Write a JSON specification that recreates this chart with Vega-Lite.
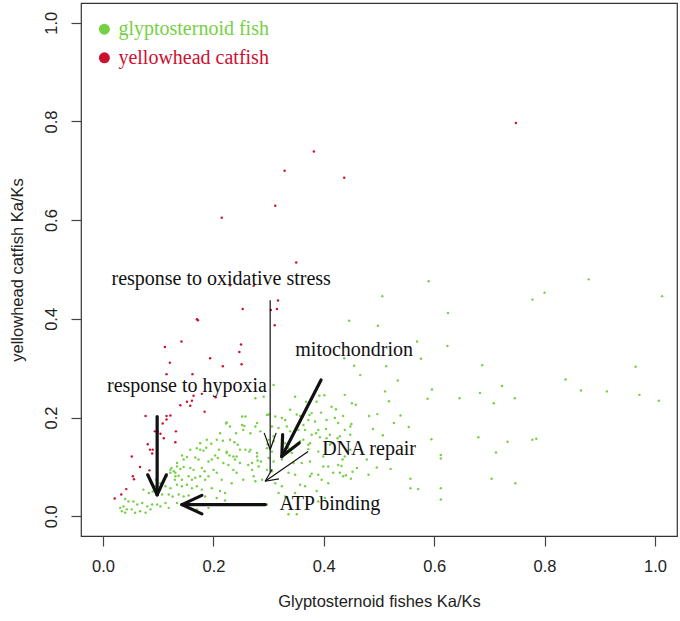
{
  "$schema": "https://vega.github.io/schema/vega-lite/v6.json",
  "autosize": {"type": "none"},
  "width": 596,
  "height": 533,
  "padding": {"left": 81, "top": 3, "right": 3, "bottom": 85},
  "background": "white",
  "config": {"view": {"stroke": "#333", "strokeWidth": 1.2}},
  "datasets": {
    "pts": [
      {"x":0.590,"y":0.476,"g":"G"},{"x":0.506,"y":0.446,"g":"G"},{"x":0.880,"y":0.480,"g":"G"},{"x":0.800,"y":0.453,"g":"G"},{"x":0.778,"y":0.439,"g":"G"},{"x":1.013,"y":0.446,"g":"G"},{"x":0.625,"y":0.412,"g":"G"},{"x":0.446,"y":0.396,"g":"G"},{"x":0.498,"y":0.386,"g":"G"},{"x":0.624,"y":0.345,"g":"G"},{"x":0.569,"y":0.354,"g":"G"},{"x":0.576,"y":0.319,"g":"G"},{"x":0.437,"y":0.320,"g":"G"},{"x":0.455,"y":0.305,"g":"G"},{"x":0.513,"y":0.304,"g":"G"},{"x":0.466,"y":0.286,"g":"G"},{"x":0.687,"y":0.306,"g":"G"},{"x":0.965,"y":0.303,"g":"G"},{"x":0.534,"y":0.275,"g":"G"},{"x":0.838,"y":0.277,"g":"G"},{"x":0.723,"y":0.264,"g":"G"},{"x":0.596,"y":0.257,"g":"G"},{"x":0.511,"y":0.253,"g":"G"},{"x":0.438,"y":0.246,"g":"G"},{"x":0.683,"y":0.250,"g":"G"},{"x":0.866,"y":0.255,"g":"G"},{"x":0.913,"y":0.253,"g":"G"},{"x":0.972,"y":0.246,"g":"G"},{"x":0.588,"y":0.238,"g":"G"},{"x":0.646,"y":0.239,"g":"G"},{"x":0.746,"y":0.239,"g":"G"},{"x":1.007,"y":0.234,"g":"G"},{"x":0.518,"y":0.233,"g":"G"},{"x":0.708,"y":0.229,"g":"G"},{"x":0.451,"y":0.229,"g":"G"},{"x":0.458,"y":0.226,"g":"G"},{"x":0.435,"y":0.203,"g":"G"},{"x":0.482,"y":0.203,"g":"G"},{"x":0.497,"y":0.207,"g":"G"},{"x":0.539,"y":0.204,"g":"G"},{"x":0.450,"y":0.187,"g":"G"},{"x":0.527,"y":0.189,"g":"G"},{"x":0.554,"y":0.181,"g":"G"},{"x":0.438,"y":0.175,"g":"G"},{"x":0.489,"y":0.177,"g":"G"},{"x":0.507,"y":0.164,"g":"G"},{"x":0.595,"y":0.156,"g":"G"},{"x":0.680,"y":0.160,"g":"G"},{"x":0.733,"y":0.151,"g":"G"},{"x":0.778,"y":0.155,"g":"G"},{"x":0.785,"y":0.157,"g":"G"},{"x":0.712,"y":0.129,"g":"G"},{"x":0.612,"y":0.124,"g":"G"},{"x":0.612,"y":0.117,"g":"G"},{"x":0.434,"y":0.115,"g":"G"},{"x":0.478,"y":0.115,"g":"G"},{"x":0.496,"y":0.099,"g":"G"},{"x":0.521,"y":0.096,"g":"G"},{"x":0.481,"y":0.084,"g":"G"},{"x":0.440,"y":0.083,"g":"G"},{"x":0.449,"y":0.076,"g":"G"},{"x":0.557,"y":0.076,"g":"G"},{"x":0.557,"y":0.057,"g":"G"},{"x":0.571,"y":0.055,"g":"G"},{"x":0.612,"y":0.057,"g":"G"},{"x":0.612,"y":0.034,"g":"G"},{"x":0.704,"y":0.076,"g":"G"},{"x":0.747,"y":0.067,"g":"G"},{"x":0.432,"y":0.102,"g":"G"},
      {"x":0.348,"y":0.242,"g":"G"},{"x":0.392,"y":0.244,"g":"G"},{"x":0.401,"y":0.245,"g":"G"},{"x":0.422,"y":0.217,"g":"G"},{"x":0.374,"y":0.205,"g":"G"},{"x":0.395,"y":0.210,"g":"G"},{"x":0.357,"y":0.203,"g":"G"},{"x":0.390,"y":0.175,"g":"G"},{"x":0.404,"y":0.177,"g":"G"},{"x":0.411,"y":0.165,"g":"G"},{"x":0.425,"y":0.158,"g":"G"},{"x":0.448,"y":0.165,"g":"G"},{"x":0.363,"y":0.185,"g":"G"},{"x":0.375,"y":0.148,"g":"G"},{"x":0.357,"y":0.152,"g":"G"},{"x":0.411,"y":0.145,"g":"G"},{"x":0.276,"y":0.182,"g":"G"},{"x":0.285,"y":0.172,"g":"G"},{"x":0.267,"y":0.135,"g":"G"},{"x":0.279,"y":0.121,"g":"G"},{"x":0.282,"y":0.101,"g":"G"},{"x":0.273,"y":0.081,"g":"G"},{"x":0.288,"y":0.074,"g":"G"},{"x":0.375,"y":0.081,"g":"G"},{"x":0.396,"y":0.074,"g":"G"},{"x":0.408,"y":0.067,"g":"G"},{"x":0.387,"y":0.051,"g":"G"},{"x":0.402,"y":0.037,"g":"G"},{"x":0.390,"y":0.030,"g":"G"},{"x":0.429,"y":0.088,"g":"G"},{"x":0.460,"y":0.098,"g":"G"},{"x":0.291,"y":0.242,"g":"G"},{"x":0.297,"y":0.205,"g":"G"},{"x":0.414,"y":0.222,"g":"G"},{"x":0.426,"y":0.189,"g":"G"},{"x":0.448,"y":0.182,"g":"G"},
      {"x":0.309,"y":0.266,"g":"G"},{"x":0.368,"y":0.232,"g":"G"},{"x":0.387,"y":0.232,"g":"G"},{"x":0.339,"y":0.216,"g":"G"},{"x":0.351,"y":0.206,"g":"G"},{"x":0.378,"y":0.209,"g":"G"},{"x":0.300,"y":0.206,"g":"G"},{"x":0.312,"y":0.202,"g":"G"},{"x":0.324,"y":0.199,"g":"G"},{"x":0.330,"y":0.195,"g":"G"},{"x":0.372,"y":0.195,"g":"G"},{"x":0.384,"y":0.192,"g":"G"},{"x":0.405,"y":0.195,"g":"G"},{"x":0.420,"y":0.199,"g":"G"},{"x":0.306,"y":0.182,"g":"G"},{"x":0.318,"y":0.179,"g":"G"},{"x":0.333,"y":0.182,"g":"G"},{"x":0.339,"y":0.172,"g":"G"},{"x":0.354,"y":0.175,"g":"G"},{"x":0.366,"y":0.175,"g":"G"},{"x":0.378,"y":0.165,"g":"G"},{"x":0.386,"y":0.168,"g":"G"},{"x":0.393,"y":0.160,"g":"G"},{"x":0.300,"y":0.155,"g":"G"},{"x":0.309,"y":0.152,"g":"G"},{"x":0.324,"y":0.155,"g":"G"},{"x":0.330,"y":0.148,"g":"G"},{"x":0.363,"y":0.155,"g":"G"},{"x":0.372,"y":0.145,"g":"G"},{"x":0.405,"y":0.158,"g":"G"},{"x":0.414,"y":0.148,"g":"G"},{"x":0.429,"y":0.162,"g":"G"},{"x":0.297,"y":0.138,"g":"G"},{"x":0.306,"y":0.131,"g":"G"},{"x":0.336,"y":0.138,"g":"G"},{"x":0.342,"y":0.128,"g":"G"},{"x":0.372,"y":0.136,"g":"G"},{"x":0.390,"y":0.131,"g":"G"},{"x":0.399,"y":0.121,"g":"G"},{"x":0.438,"y":0.121,"g":"G"},{"x":0.448,"y":0.135,"g":"G"},{"x":0.300,"y":0.118,"g":"G"},{"x":0.309,"y":0.111,"g":"G"},{"x":0.324,"y":0.115,"g":"G"},{"x":0.345,"y":0.108,"g":"G"},{"x":0.360,"y":0.108,"g":"G"},{"x":0.375,"y":0.111,"g":"G"},{"x":0.399,"y":0.101,"g":"G"},{"x":0.408,"y":0.101,"g":"G"},{"x":0.426,"y":0.104,"g":"G"},{"x":0.297,"y":0.094,"g":"G"},{"x":0.306,"y":0.091,"g":"G"},{"x":0.336,"y":0.088,"g":"G"},{"x":0.348,"y":0.084,"g":"G"},{"x":0.378,"y":0.086,"g":"G"},{"x":0.390,"y":0.084,"g":"G"},{"x":0.417,"y":0.088,"g":"G"},{"x":0.435,"y":0.081,"g":"G"},{"x":0.452,"y":0.090,"g":"G"},{"x":0.312,"y":0.067,"g":"G"},{"x":0.324,"y":0.061,"g":"G"},{"x":0.357,"y":0.064,"g":"G"},{"x":0.366,"y":0.061,"g":"G"},{"x":0.318,"y":0.047,"g":"G"},{"x":0.330,"y":0.040,"g":"G"},{"x":0.348,"y":0.047,"g":"G"},{"x":0.354,"y":0.037,"g":"G"},{"x":0.297,"y":0.024,"g":"G"},{"x":0.336,"y":0.004,"g":"G"},{"x":0.351,"y":0.004,"g":"G"},
      {"x":0.258,"y":0.202,"g":"G"},{"x":0.252,"y":0.185,"g":"G"},{"x":0.224,"y":0.190,"g":"G"},{"x":0.230,"y":0.182,"g":"G"},{"x":0.279,"y":0.189,"g":"G"},{"x":0.298,"y":0.146,"g":"G"},{"x":0.309,"y":0.162,"g":"G"},{"x":0.212,"y":0.168,"g":"G"},{"x":0.206,"y":0.155,"g":"G"},{"x":0.188,"y":0.155,"g":"G"},{"x":0.176,"y":0.148,"g":"G"},{"x":0.158,"y":0.135,"g":"G"},{"x":0.170,"y":0.138,"g":"G"},{"x":0.134,"y":0.108,"g":"G"},{"x":0.146,"y":0.115,"g":"G"},{"x":0.122,"y":0.094,"g":"G"},{"x":0.131,"y":0.088,"g":"G"},{"x":0.224,"y":0.128,"g":"G"},{"x":0.236,"y":0.121,"g":"G"},{"x":0.248,"y":0.135,"g":"G"},{"x":0.270,"y":0.108,"g":"G"},{"x":0.279,"y":0.128,"g":"G"},{"x":0.037,"y":0.020,"g":"G"},{"x":0.043,"y":0.014,"g":"G"},
      {"x":0.276,"y":0.239,"g":"G"},{"x":0.223,"y":0.188,"g":"G"},{"x":0.252,"y":0.202,"g":"G"},{"x":0.256,"y":0.183,"g":"G"},{"x":0.254,"y":0.175,"g":"G"},{"x":0.241,"y":0.168,"g":"G"},{"x":0.267,"y":0.168,"g":"G"},{"x":0.217,"y":0.153,"g":"G"},{"x":0.230,"y":0.155,"g":"G"},{"x":0.196,"y":0.147,"g":"G"},{"x":0.238,"y":0.150,"g":"G"},{"x":0.244,"y":0.145,"g":"G"},{"x":0.210,"y":0.135,"g":"G"},{"x":0.176,"y":0.135,"g":"G"},{"x":0.182,"y":0.133,"g":"G"},{"x":0.187,"y":0.139,"g":"G"},{"x":0.224,"y":0.131,"g":"G"},{"x":0.229,"y":0.123,"g":"G"},{"x":0.258,"y":0.135,"g":"G"},{"x":0.265,"y":0.131,"g":"G"},{"x":0.203,"y":0.123,"g":"G"},{"x":0.208,"y":0.118,"g":"G"},{"x":0.242,"y":0.121,"g":"G"},{"x":0.239,"y":0.115,"g":"G"},{"x":0.143,"y":0.123,"g":"G"},{"x":0.152,"y":0.120,"g":"G"},{"x":0.167,"y":0.119,"g":"G"},{"x":0.173,"y":0.115,"g":"G"},{"x":0.191,"y":0.111,"g":"G"},{"x":0.197,"y":0.115,"g":"G"},{"x":0.218,"y":0.108,"g":"G"},{"x":0.227,"y":0.104,"g":"G"},{"x":0.248,"y":0.108,"g":"G"},{"x":0.263,"y":0.104,"g":"G"},{"x":0.280,"y":0.113,"g":"G"},{"x":0.286,"y":0.111,"g":"G"},{"x":0.134,"y":0.101,"g":"G"},{"x":0.140,"y":0.096,"g":"G"},{"x":0.146,"y":0.100,"g":"G"},{"x":0.158,"y":0.098,"g":"G"},{"x":0.164,"y":0.094,"g":"G"},{"x":0.179,"y":0.098,"g":"G"},{"x":0.184,"y":0.091,"g":"G"},{"x":0.200,"y":0.094,"g":"G"},{"x":0.206,"y":0.088,"g":"G"},{"x":0.236,"y":0.094,"g":"G"},{"x":0.242,"y":0.088,"g":"G"},{"x":0.270,"y":0.094,"g":"G"},{"x":0.131,"y":0.081,"g":"G"},{"x":0.137,"y":0.082,"g":"G"},{"x":0.143,"y":0.074,"g":"G"},{"x":0.155,"y":0.081,"g":"G"},{"x":0.161,"y":0.074,"g":"G"},{"x":0.167,"y":0.078,"g":"G"},{"x":0.176,"y":0.081,"g":"G"},{"x":0.185,"y":0.074,"g":"G"},{"x":0.191,"y":0.081,"g":"G"},{"x":0.215,"y":0.074,"g":"G"},{"x":0.233,"y":0.067,"g":"G"},{"x":0.254,"y":0.074,"g":"G"},{"x":0.276,"y":0.071,"g":"G"},{"x":0.134,"y":0.064,"g":"G"},{"x":0.143,"y":0.061,"g":"G"},{"x":0.152,"y":0.064,"g":"G"},{"x":0.161,"y":0.057,"g":"G"},{"x":0.170,"y":0.061,"g":"G"},{"x":0.179,"y":0.054,"g":"G"},{"x":0.197,"y":0.057,"g":"G"},{"x":0.212,"y":0.051,"g":"G"},{"x":0.221,"y":0.047,"g":"G"},{"x":0.137,"y":0.044,"g":"G"},{"x":0.146,"y":0.040,"g":"G"},{"x":0.155,"y":0.042,"g":"G"},{"x":0.167,"y":0.037,"g":"G"},{"x":0.185,"y":0.040,"g":"G"},{"x":0.206,"y":0.037,"g":"G"},{"x":0.221,"y":0.032,"g":"G"},{"x":0.134,"y":0.027,"g":"G"},{"x":0.143,"y":0.024,"g":"G"},{"x":0.170,"y":0.014,"g":"G"},{"x":0.191,"y":0.017,"g":"G"},
      {"x":0.115,"y":0.081,"g":"G"},{"x":0.122,"y":0.088,"g":"G"},{"x":0.128,"y":0.091,"g":"G"},{"x":0.096,"y":0.074,"g":"G"},{"x":0.104,"y":0.067,"g":"G"},{"x":0.113,"y":0.061,"g":"G"},{"x":0.086,"y":0.071,"g":"G"},{"x":0.073,"y":0.054,"g":"G"},{"x":0.083,"y":0.047,"g":"G"},{"x":0.090,"y":0.050,"g":"G"},{"x":0.098,"y":0.044,"g":"G"},{"x":0.107,"y":0.044,"g":"G"},{"x":0.119,"y":0.044,"g":"G"},{"x":0.126,"y":0.040,"g":"G"},{"x":0.040,"y":0.035,"g":"G"},{"x":0.046,"y":0.030,"g":"G"},{"x":0.055,"y":0.030,"g":"G"},{"x":0.062,"y":0.024,"g":"G"},{"x":0.071,"y":0.027,"g":"G"},{"x":0.080,"y":0.020,"g":"G"},{"x":0.089,"y":0.024,"g":"G"},{"x":0.098,"y":0.024,"g":"G"},{"x":0.104,"y":0.020,"g":"G"},{"x":0.113,"y":0.027,"g":"G"},{"x":0.119,"y":0.017,"g":"G"},{"x":0.031,"y":0.017,"g":"G"},{"x":0.034,"y":0.010,"g":"G"},{"x":0.040,"y":0.007,"g":"G"},{"x":0.052,"y":0.014,"g":"G"},{"x":0.058,"y":0.007,"g":"G"},{"x":0.067,"y":0.010,"g":"G"},{"x":0.077,"y":0.007,"g":"G"},{"x":0.086,"y":0.014,"g":"G"},{"x":0.122,"y":0.057,"g":"G"},{"x":0.130,"y":0.074,"g":"G"},{"x":0.124,"y":0.098,"g":"G"},{"x":0.095,"y":0.061,"g":"G"},
      {"x":0.748,"y":0.797,"g":"R"},{"x":0.382,"y":0.739,"g":"R"},{"x":0.329,"y":0.700,"g":"R"},{"x":0.437,"y":0.686,"g":"R"},{"x":0.312,"y":0.629,"g":"R"},{"x":0.215,"y":0.605,"g":"R"},{"x":0.350,"y":0.514,"g":"R"},{"x":0.230,"y":0.468,"g":"R"},{"x":0.273,"y":0.467,"g":"R"},{"x":0.317,"y":0.437,"g":"R"},{"x":0.304,"y":0.418,"g":"R"},{"x":0.315,"y":0.420,"g":"R"},{"x":0.253,"y":0.420,"g":"R"},{"x":0.311,"y":0.387,"g":"R"},{"x":0.170,"y":0.399,"g":"R"},{"x":0.172,"y":0.397,"g":"R"},{"x":0.142,"y":0.354,"g":"R"},{"x":0.112,"y":0.343,"g":"R"},{"x":0.250,"y":0.348,"g":"R"},{"x":0.247,"y":0.333,"g":"R"},{"x":0.194,"y":0.320,"g":"R"},{"x":0.217,"y":0.304,"g":"R"},{"x":0.251,"y":0.308,"g":"R"},{"x":0.121,"y":0.311,"g":"R"},{"x":0.115,"y":0.288,"g":"R"},{"x":0.162,"y":0.288,"g":"R"},{"x":0.140,"y":0.225,"g":"R"},{"x":0.152,"y":0.232,"g":"R"},{"x":0.161,"y":0.234,"g":"R"},{"x":0.164,"y":0.244,"g":"R"},{"x":0.179,"y":0.248,"g":"R"},{"x":0.204,"y":0.241,"g":"R"},{"x":0.158,"y":0.224,"g":"R"},{"x":0.184,"y":0.212,"g":"R"},{"x":0.077,"y":0.203,"g":"R"},{"x":0.115,"y":0.203,"g":"R"},{"x":0.122,"y":0.204,"g":"R"},{"x":0.115,"y":0.196,"g":"R"},{"x":0.108,"y":0.188,"g":"R"},{"x":0.094,"y":0.172,"g":"R"},{"x":0.099,"y":0.172,"g":"R"},{"x":0.104,"y":0.167,"g":"R"},{"x":0.132,"y":0.172,"g":"R"},{"x":0.110,"y":0.158,"g":"R"},{"x":0.131,"y":0.150,"g":"R"},{"x":0.081,"y":0.146,"g":"R"},{"x":0.085,"y":0.135,"g":"R"},{"x":0.090,"y":0.135,"g":"R"},{"x":0.089,"y":0.127,"g":"R"},{"x":0.052,"y":0.121,"g":"R"},{"x":0.067,"y":0.100,"g":"R"},{"x":0.084,"y":0.093,"g":"R"},{"x":0.054,"y":0.081,"g":"R"},{"x":0.056,"y":0.075,"g":"R"},{"x":0.042,"y":0.055,"g":"R"},{"x":0.033,"y":0.044,"g":"R"},{"x":0.021,"y":0.036,"g":"R"}
    ],
    "legend": [
      {"x":0.0024,"y":0.987,"g":"G","label":"glyptosternoid fish"},
      {"x":0.0024,"y":0.929,"g":"R","label":"yellowhead catfish"}
    ],
    "notes": [
      {"x":0.214,"y":0.480,"label":"response to oxidative stress"},
      {"x":0.152,"y":0.263,"label":"response to hypoxia"},
      {"x":0.455,"y":0.337,"label":"mitochondrion"},
      {"x":0.482,"y":0.137,"label":"DNA repair"},
      {"x":0.411,"y":0.024,"label":"ATP binding"}
    ],
    "thick": [
      {"x":0.0980,"y":0.2020,"x2":0.0980,"y2":0.0436},
      {"x":0.0809,"y":0.0840,"x2":0.0980,"y2":0.0436},
      {"x":0.1146,"y":0.0840,"x2":0.0980,"y2":0.0436},
      {"x":0.3950,"y":0.2762,"x2":0.3239,"y2":0.1210},
      {"x":0.3554,"y":0.1485,"x2":0.3239,"y2":0.1210},
      {"x":0.3254,"y":0.1657,"x2":0.3239,"y2":0.1210},
      {"x":0.2940,"y":0.0236,"x2":0.1430,"y2":0.0236},
      {"x":0.1790,"y":0.0424,"x2":0.1430,"y2":0.0236},
      {"x":0.1790,"y":0.0048,"x2":0.1430,"y2":0.0236}
    ],
    "thin": [
      {"x":0.3028,"y":0.4378,"x2":0.3028,"y2":0.0885},
      {"x":0.2919,"y":0.1690,"x2":0.3028,"y2":0.1347},
      {"x":0.3136,"y":0.1690,"x2":0.3028,"y2":0.1347},
      {"x":0.3715,"y":0.1313,"x2":0.2937,"y2":0.0710},
      {"x":0.3187,"y":0.0756,"x2":0.2937,"y2":0.0710},
      {"x":0.3064,"y":0.0952,"x2":0.2937,"y2":0.0710}
    ]
  },
  "encoding": {
    "x": {"field": "x", "type": "quantitative",
      "scale": {"domain": [-0.04, 1.04], "nice": false, "zero": false},
      "axis": {"title": "Glyptosternoid fishes Ka/Ks", "values": [0, 0.2, 0.4, 0.6, 0.8, 1], "format": ".1f",
        "domain": false, "grid": false, "ticks": true, "tickSize": 10, "tickColor": "#444", "tickWidth": 1.2,
        "labelFont": "Liberation Sans", "labelFontSize": 16.5, "labelColor": "#222", "labelPadding": 12,
        "labelFlush": false, "labelOverlap": false,
        "titleFont": "Liberation Sans", "titleFontSize": 16.5, "titleFontWeight": "normal", "titleColor": "#222", "titlePadding": 19}},
    "y": {"field": "y", "type": "quantitative",
      "scale": {"domain": [-0.04, 1.04], "nice": false, "zero": false},
      "axis": {"title": "yellowhead catfish Ka/Ks", "values": [0, 0.2, 0.4, 0.6, 0.8, 1], "format": ".1f",
        "domain": false, "grid": false, "ticks": true, "tickSize": 10, "tickColor": "#444", "tickWidth": 1.2,
        "labelFont": "Liberation Sans", "labelFontSize": 16.5, "labelColor": "#222", "labelPadding": 12,
        "labelAngle": 270, "labelAlign": "center", "labelBaseline": "bottom",
        "labelFlush": false, "labelOverlap": false,
        "titleFont": "Liberation Sans", "titleFontSize": 16.5, "titleFontWeight": "normal", "titleColor": "#222", "titlePadding": 18}}
  },
  "layer": [
    {
      "data": {"name": "pts"},
      "mark": {"type": "circle", "size": 6, "opacity": 1},
      "encoding": {
        "color": {"field": "g", "type": "nominal", "scale": {"domain": ["G", "R"], "range": ["#76d045", "#cc1030"]}, "legend": null}
      }
    },
    {
      "data": {"name": "legend"},
      "mark": {"type": "circle", "size": 120, "opacity": 1},
      "encoding": {
        "color": {"field": "g", "type": "nominal", "legend": null}
      }
    },
    {
      "data": {"name": "legend"},
      "mark": {"type": "text", "align": "left", "baseline": "middle", "font": "Liberation Serif", "fontSize": 20, "dx": 14},
      "encoding": {
        "text": {"field": "label"},
        "color": {"field": "g", "type": "nominal", "legend": null}
      }
    },
    {
      "data": {"name": "notes"},
      "mark": {"type": "text", "align": "center", "baseline": "middle", "font": "Liberation Serif", "fontSize": 20, "color": "#111"},
      "encoding": {
        "text": {"field": "label"}
      }
    },
    {
      "data": {"name": "thick"},
      "mark": {"type": "rule", "strokeWidth": 3.2, "color": "#111", "strokeCap": "round"},
      "encoding": {
        "x2": {"field": "x2"},
        "y2": {"field": "y2"}
      }
    },
    {
      "data": {"name": "thin"},
      "mark": {"type": "rule", "strokeWidth": 1.2, "color": "#111"},
      "encoding": {
        "x2": {"field": "x2"},
        "y2": {"field": "y2"}
      }
    }
  ]
}
